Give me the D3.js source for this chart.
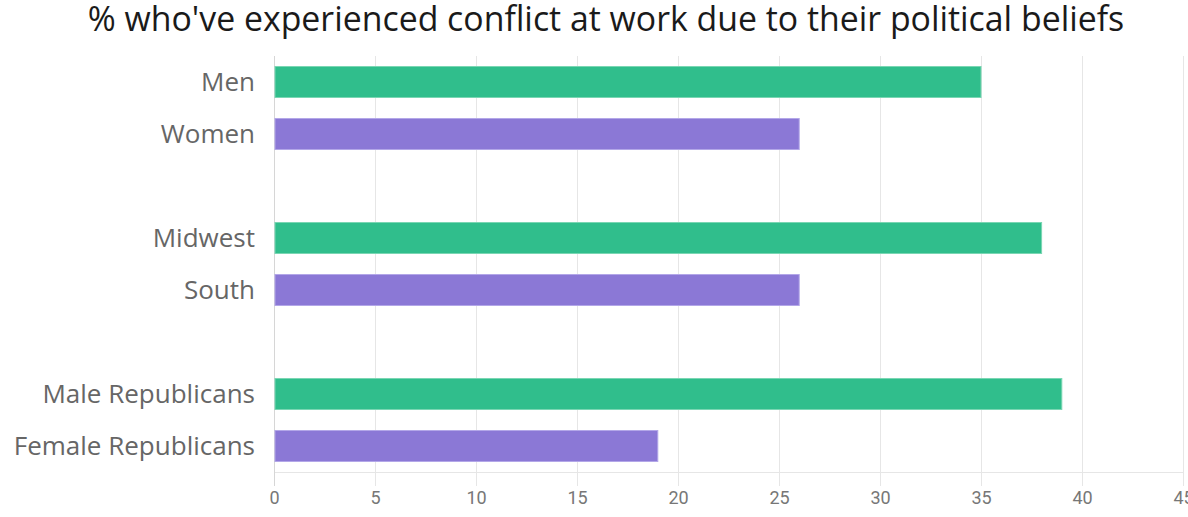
<!DOCTYPE html>
<html>
<head>
<meta charset="utf-8">
<script src="https://cdn.jsdelivr.net/npm/d3@7"></script>
<style>
  html, body { margin: 0; padding: 0; background: #fff; }
  svg { display: block; }
</style>
</head>
<body>
<svg id="chart" width="1188" height="517"></svg>
<script>
const title = "% who've experienced conflict at work due to their political beliefs";
const categories = ["Men", "Women", "Midwest", "South", "Male Republicans", "Female Republicans"];
const values = [35, 26, 38, 26, 39, 19];
const groups = [0, 0, 1, 1, 2, 2];
const seriesColors = ["#30be8c", "#8b78d6"];
const seriesStroke = ["#7ad6b3", "#b3a7e8"];
const xTicks = [0, 5, 10, 15, 20, 25, 30, 35, 40, 45];

const W = 1188, H = 517;
const margin = { left: 274, right: 5, top: 56, bottom: 45 };
const svg = d3.select("#chart");
const font = "'Open Sans', 'Noto Sans', sans-serif";

const slots = categories.map((c, i) => i + groups[i]);
const nSlots = d3.max(slots) + 1;

const x = d3.scaleLinear().domain([0, 45]).range([margin.left, W - margin.right]);
const y = d3.scaleBand()
  .domain(d3.range(nSlots))
  .range([margin.top, H - margin.bottom])
  .paddingInner(0.385)
  .paddingOuter(0.1925);

const plotBottom = H - margin.bottom;
const gridBottom = plotBottom + 14;

const grid = svg.append("g");
grid.selectAll("line.v")
  .data(xTicks.slice(1))
  .join("line")
  .attr("x1", d => x(d) + 0.5).attr("x2", d => x(d) + 0.5)
  .attr("y1", margin.top).attr("y2", gridBottom)
  .attr("stroke", "#e6e6e6").attr("stroke-width", 1);

grid.append("line")
  .attr("x1", x(0)).attr("x2", x(45) + 1)
  .attr("y1", plotBottom + 0.5).attr("y2", plotBottom + 0.5)
  .attr("stroke", "#e6e6e6");

grid.append("line")
  .attr("x1", x(0) + 0.5).attr("x2", x(0) + 0.5)
  .attr("y1", margin.top).attr("y2", gridBottom)
  .attr("stroke", "#d6d6d6");

svg.append("g").selectAll("rect")
  .data(categories)
  .join("rect")
  .attr("x", x(0) + 1)
  .attr("y", (d, i) => y(slots[i]) + 0.5)
  .attr("width", (d, i) => x(values[i]) - x(0) - 1)
  .attr("height", y.bandwidth() - 1)
  .attr("fill", (d, i) => seriesColors[i % 2])
  .attr("stroke", (d, i) => seriesStroke[i % 2])
  .attr("stroke-width", 1);

const labels = svg.append("g").selectAll("text")
  .data(categories)
  .join("text")
  .attr("x", 255)
  .attr("y", (d, i) => y(slots[i]) + y.bandwidth() / 2)
  .attr("dy", "0.36em")
  .attr("text-anchor", "end")
  .attr("fill", "#666")
  .style("font-family", font)
  .style("font-size", "24px")
  .text(d => d);
// fit the longest label to the reference width (~252px)
const maxLen = d3.max(labels.nodes(), n => n.getComputedTextLength());
labels.style("font-size", Math.min(26, 24 * 251 / maxLen).toFixed(2) + "px");

const xAxis = d3.axisBottom(x).tickValues(xTicks).tickSize(0).tickPadding(0).tickFormat(d3.format("d"));
const gx = svg.append("g").attr("transform", `translate(0, ${gridBottom + 18})`).call(xAxis);
gx.select(".domain").remove();
gx.selectAll("text")
  .attr("fill", "#777")
  .attr("dy", "0")
  .style("font-family", "Roboto, 'Noto Sans', sans-serif")
  .style("font-size", "18px");

const t = svg.append("text")
  .attr("x", 606)
  .attr("y", 31)
  .attr("text-anchor", "middle")
  .attr("fill", "#1a1a1a")
  .style("font-family", font)
  .style("font-size", "26px")
  .text(title);
const tl = t.node().getComputedTextLength();
t.style("font-size", (26 * 1037 / tl).toFixed(2) + "px");
</script>
</body>
</html>
